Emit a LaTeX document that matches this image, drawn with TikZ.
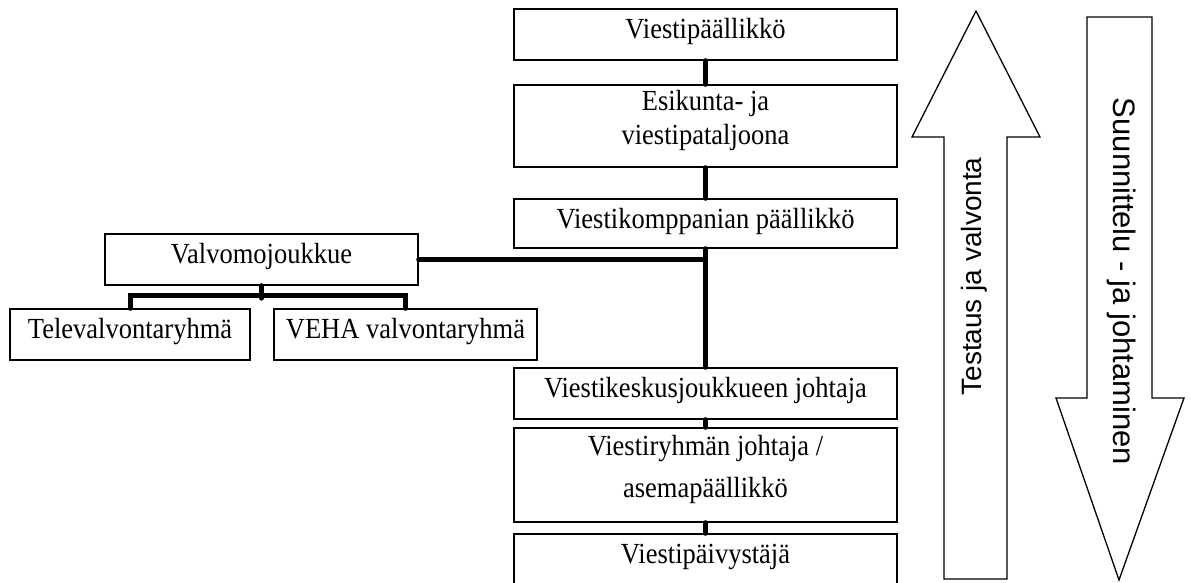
\documentclass[tikz,border=0pt]{standalone}
\usepackage{fontspec}
\setmainfont{Liberation Serif}
\newfontfamily\arrowfont{Liberation Sans}
\newcommand{\tx}[1]{\scalebox{1}[1.1]{#1}}
\begin{document}
\begin{tikzpicture}[x=1pt,y=-1pt,
  box/.style={draw=black,line width=1.4pt,minimum width=383pt,inner sep=0pt},
  sbox/.style={draw=black,line width=1.4pt,inner sep=0pt},
  lab/.style={font=\fontsize{26.5}{30}\selectfont,inner sep=0pt,anchor=base},
  conn/.style={line width=5pt,line cap=round},
  bigarrow/.style={draw=black,line width=1.3pt,fill=white,line join=miter},
  atext/.style={font=\arrowfont\fontsize{28}{32}\selectfont,inner sep=0pt,anchor=base}]
\useasboundingbox (0,0) rectangle (1191,582);
\clip (0,0) rectangle (1191,582);
% boxes
\node[box,minimum height=51pt] (b1) at (705.5,34.5) {};
\node[box,minimum height=82pt] (b2) at (705.5,126) {};
\node[box,minimum height=49pt] (b3) at (705.5,223.5) {};
\node[sbox,minimum width=313pt,minimum height=51pt] (valvo) at (261.5,259.5) {};
\node[sbox,minimum width=240pt,minimum height=51pt] (tele) at (130,334.5) {};
\node[sbox,minimum width=263pt,minimum height=51pt] (veha) at (405.5,334.5) {};
\node[box,minimum height=51pt] (b4) at (705.5,393.5) {};
\node[box,minimum height=94pt] (b5) at (705.5,475) {};
\node[box,minimum height=90pt] (b6) at (705.5,579) {};
% labels
\node[lab] (t1) at (705.5,38.5) {\tx{Viestipäällikkö}};
\node[lab] (t2a) at (705.5,110) {\tx{Esikunta- ja}};
\node[lab] (t2b) at (705.5,144) {\tx{viestipataljoona}};
\node[lab] (t3) at (705.5,228.5) {\tx{Viestikomppanian päällikkö}};
\node[lab] (tv) at (261.5,263.5) {\tx{Valvomojoukkue}};
\node[lab] (tt) at (130,338) {\tx{Televalvontaryhmä}};
\node[lab] (tw) at (405.5,338) {\tx{VEHA valvontaryhmä}};
\node[lab] (t4) at (705.5,397.5) {\tx{Viestikeskusjoukkueen johtaja}};
\node[lab] (t5a) at (705.5,455) {\tx{Viestiryhmän johtaja /}};
\node[lab] (t5b) at (705.5,497) {\tx{asemapäällikkö}};
\node[lab] (t6) at (705.5,563) {\tx{Viestipäivystäjä}};
% connectors
\coordinate (j) at (705,259.5);
\draw[conn] (b1.south) -- (b2.north);
\draw[conn] (b2.south) -- (b3.north);
\draw[conn] (b3.south) -- (b4.north);
\draw[conn] (valvo.east) -- (j);
\draw[conn] (b4.south) -- (b5.north);
\draw[conn] (b5.south) -- (b6.north);
\draw[conn] (valvo.south) -- ++(0,12.5);
\draw[conn] (tele.north) -- ++(0,-12.5) -| (veha.north);
% big arrows
\draw[bigarrow] (976,11) -- (1040,137) -- (1007,137) -- (1007,579) -- (944,579) -- (944,137) -- (912,137) -- cycle;
\draw[bigarrow] (1087,17) -- (1152,17) -- (1152,398) -- (1184,398) -- (1119,580) -- (1056,398) -- (1087,398) -- cycle;
\node[atext,rotate=90] (ta) at (981.5,276.5) {Testaus ja valvonta};
\node[atext,rotate=-90,font=\arrowfont\fontsize{31}{34}\selectfont] (tb) at (1113.5,281.5) {Suunnittelu - ja johtaminen};
\end{tikzpicture}
\end{document}
